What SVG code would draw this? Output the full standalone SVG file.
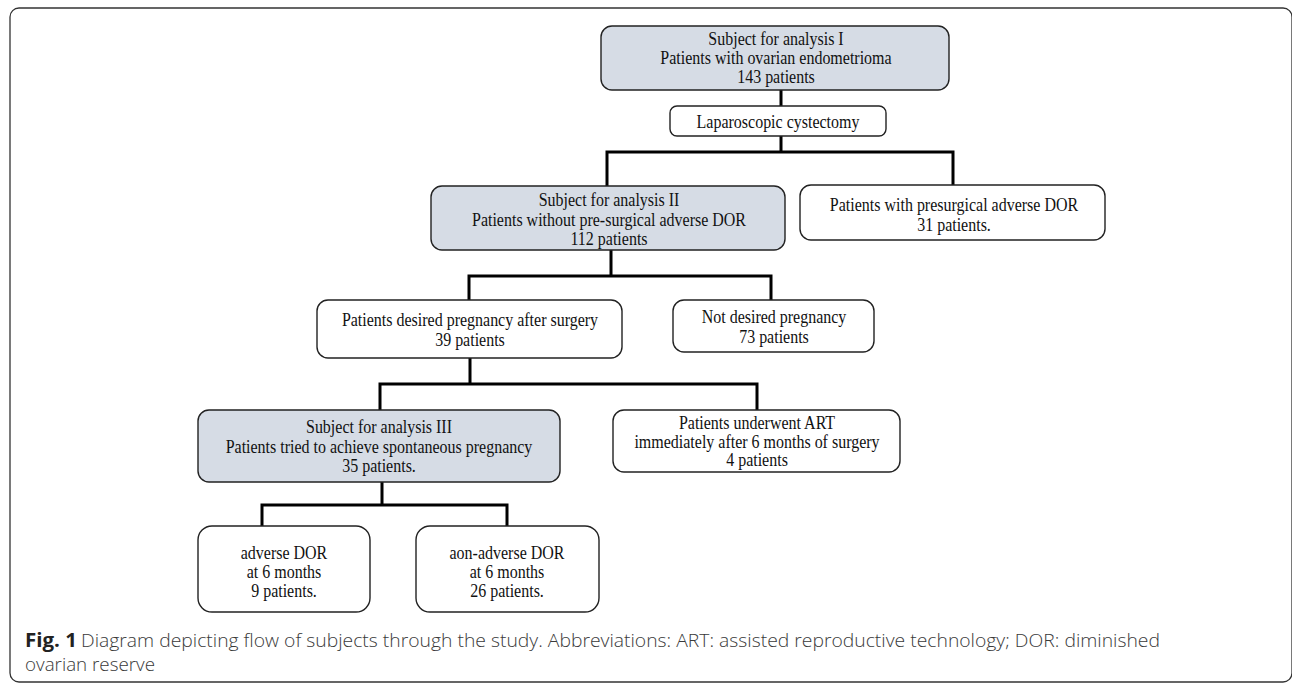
<svg xmlns="http://www.w3.org/2000/svg" width="1292" height="685" viewBox="0 0 1292 685">
<style>
.frame{fill:#fff;stroke:#333;stroke-width:1.3}
.box{fill:#fff;stroke:#222;stroke-width:1.4}
.hl{fill:#d6dce5;stroke:#222;stroke-width:1.4}
.t{font-family:"Liberation Serif","Times New Roman",serif;font-size:16px;fill:#111;text-anchor:middle}
.conn{fill:none;stroke:#000;stroke-width:3;stroke-linejoin:miter;stroke-linecap:square}
.cap{font-family:"Open Sans","Liberation Sans",sans-serif;font-size:19px;fill:#3a3a3a;font-weight:300}
.capb{font-family:"Open Sans","Liberation Sans",sans-serif;font-size:19px;fill:#222;font-weight:bold}
</style>
<rect class="frame" x="10" y="8" width="1282" height="674" rx="9"/>
<g id="connectors">
<path class="conn" d="M781 90V106M781 136V152M607 186V152H953V185"/>
<path class="conn" d="M611 250V276M469 300V276H771V300"/>
<path class="conn" d="M470 358V384M380 410V384H757V410"/>
<path class="conn" d="M382 482V505M262 526V505H507V526"/>
</g>
<g id="n1">
<rect class="hl" x="601" y="26" width="348" height="64" rx="11"/>
<text class="t" transform="matrix(1 0 0 1.12 776 45)">Subject for analysis I</text>
<text class="t" transform="matrix(1 0 0 1.12 776 64)">Patients with ovarian endometrioma</text>
<text class="t" transform="matrix(1 0 0 1.12 776 83)">143 patients</text>
</g>
<g id="n2">
<rect class="box" x="670" y="106" width="216" height="30" rx="7"/>
<text class="t" transform="matrix(1 0 0 1.12 778 128)">Laparoscopic cystectomy</text>
</g>
<g id="n3">
<rect class="hl" x="431" y="186" width="354" height="64" rx="11"/>
<text class="t" transform="matrix(1 0 0 1.12 609 206)">Subject for analysis II</text>
<text class="t" transform="matrix(1 0 0 1.12 609 226)">Patients without pre-surgical adverse DOR</text>
<text class="t" transform="matrix(1 0 0 1.12 609 245)">112 patients</text>
</g>
<g id="n4">
<rect class="box" x="800" y="185" width="305" height="55" rx="11"/>
<text class="t" transform="matrix(1 0 0 1.12 954 211)">Patients with presurgical adverse DOR</text>
<text class="t" transform="matrix(1 0 0 1.12 954 231)">31 patients.</text>
</g>
<g id="n5">
<rect class="box" x="317" y="300" width="305" height="58" rx="11"/>
<text class="t" transform="matrix(1 0 0 1.12 470 326)">Patients desired pregnancy after surgery</text>
<text class="t" transform="matrix(1 0 0 1.12 470 346)">39 patients</text>
</g>
<g id="n6">
<rect class="box" x="673" y="300" width="201" height="52" rx="11"/>
<text class="t" transform="matrix(1 0 0 1.12 774 323)">Not desired pregnancy</text>
<text class="t" transform="matrix(1 0 0 1.12 774 343)">73 patients</text>
</g>
<g id="n7">
<rect class="hl" x="198" y="410" width="362" height="72" rx="11"/>
<text class="t" transform="matrix(1 0 0 1.12 379 433)">Subject for analysis III</text>
<text class="t" transform="matrix(1 0 0 1.12 379 453)">Patients tried to achieve spontaneous pregnancy</text>
<text class="t" transform="matrix(1 0 0 1.12 379 472)">35 patients.</text>
</g>
<g id="n8">
<rect class="box" x="613" y="410" width="287" height="62" rx="11"/>
<text class="t" transform="matrix(1 0 0 1.12 757 429)">Patients underwent ART</text>
<text class="t" transform="matrix(1 0 0 1.12 757 448)">immediately after 6 months of surgery</text>
<text class="t" transform="matrix(1 0 0 1.12 757 466)">4 patients</text>
</g>
<g id="n9">
<rect class="box" x="198" y="526" width="172" height="86" rx="14"/>
<text class="t" transform="matrix(1 0 0 1.12 284 559)">adverse DOR</text>
<text class="t" transform="matrix(1 0 0 1.12 284 578)">at 6 months</text>
<text class="t" transform="matrix(1 0 0 1.12 284 597)">9 patients.</text>
</g>
<g id="n10">
<rect class="box" x="416" y="526" width="183" height="86" rx="14"/>
<text class="t" transform="matrix(1 0 0 1.12 507 559)">aon-adverse DOR</text>
<text class="t" transform="matrix(1 0 0 1.12 507 578)">at 6 months</text>
<text class="t" transform="matrix(1 0 0 1.12 507 597)">26 patients.</text>
</g>
<g id="caption">
<text class="capb" x="25" y="647" textLength="52" lengthAdjust="spacingAndGlyphs">Fig. 1</text>
<text class="cap" x="81" y="647" textLength="1079" lengthAdjust="spacingAndGlyphs">Diagram depicting flow of subjects through the study. Abbreviations: ART: assisted reproductive technology; DOR: diminished</text>
<text class="cap" x="25" y="671" textLength="130" lengthAdjust="spacingAndGlyphs">ovarian reserve</text>
</g>
</svg>
